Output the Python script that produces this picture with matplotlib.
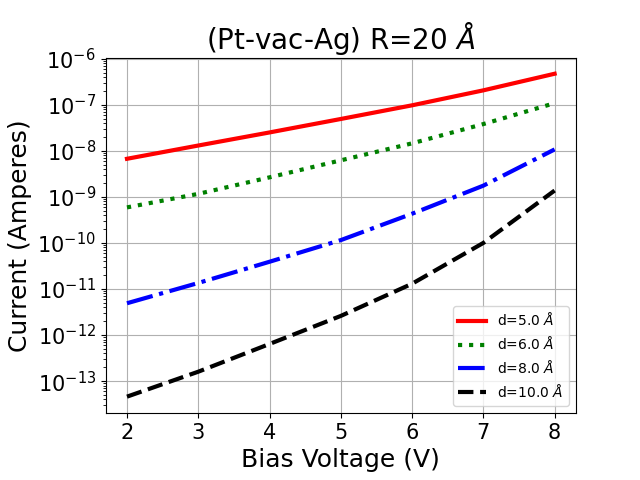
import matplotlib

matplotlib.use("Agg")
import matplotlib.pyplot as plt

# bias voltage (V)
voltage = [2, 3, 4, 5, 6, 7, 8]

# current (A) for each gap distance
current_d5 = [6.7e-9, 1.3e-8, 2.5e-8, 4.9e-8, 9.7e-8, 2.05e-7, 4.7e-7]
current_d6 = [5.9e-10, 1.16e-9, 2.65e-9, 6.2e-9, 1.45e-8, 3.8e-8, 1.08e-7]
current_d8 = [4.9e-12, 1.35e-11, 3.9e-11, 1.15e-10, 4.3e-10, 1.75e-9, 1.07e-8]
current_d10 = [4.6e-14, 1.6e-13, 6.4e-13, 2.6e-12, 1.3e-11, 1.0e-10, 1.37e-9]

labels = [r"d=5.0 $\AA$", r"d=6.0 $\AA$", r"d=8.0 $\AA$", r"d=10.0 $\AA$"]

fig, ax = plt.subplots(figsize=(6.4, 4.8), dpi=100)
fig.subplots_adjust(left=0.165, right=0.9, bottom=0.14, top=0.88)

ax.plot(voltage, current_d5, "r-", lw=3, label=labels[0])
ax.plot(voltage, current_d6, "g:", lw=3, label=labels[1])
ax.plot(voltage, current_d8, "b-.", lw=3, label=labels[2])
ax.plot(voltage, current_d10, "k--", lw=3, label=labels[3])

ax.set_yscale("log")
ax.set_title(r"(Pt-vac-Ag) R=20 $\AA$", fontsize=20)
ax.set_xlabel("Bias Voltage (V)", fontsize=18)
ax.set_ylabel("Current (Amperes)", fontsize=18)
ax.tick_params(axis="both", which="major", labelsize=15)
ax.grid(True)
ax.legend(loc="lower right", fontsize=10)

fig.savefig("out.png", dpi=100)
